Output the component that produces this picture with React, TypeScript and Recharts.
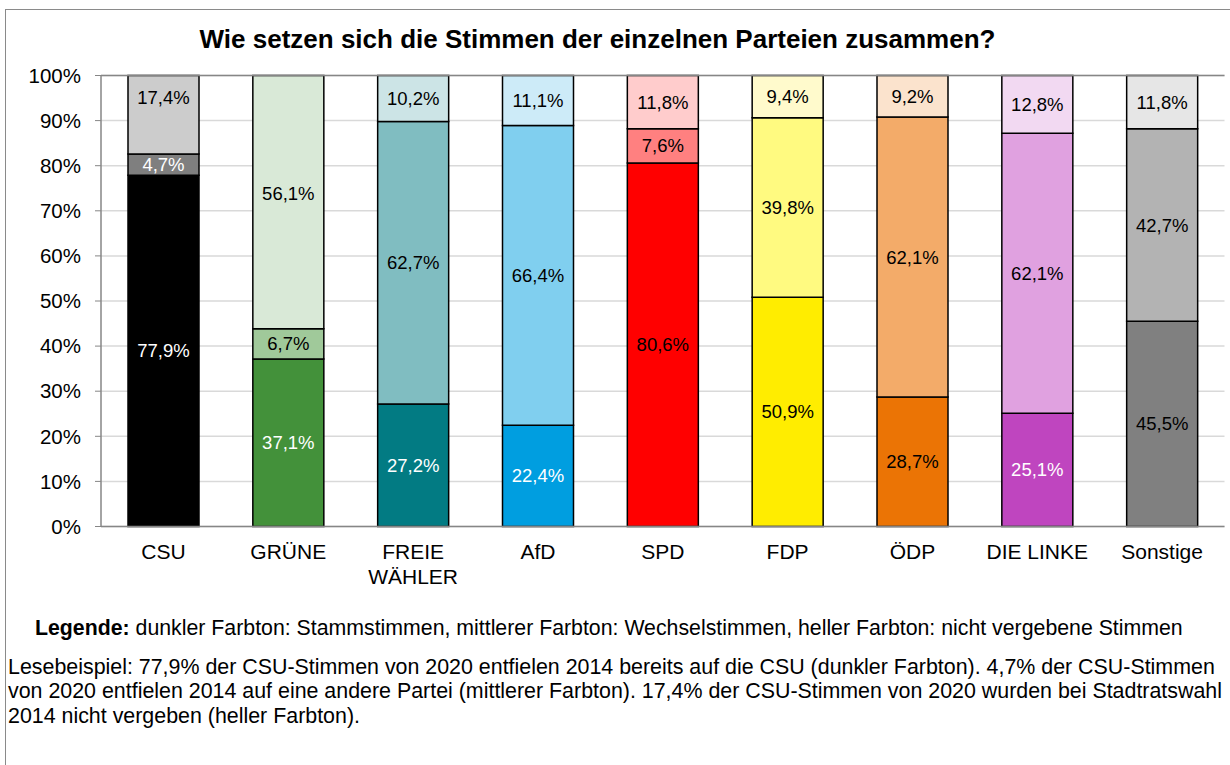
import { BarChart, Bar, XAxis, YAxis, CartesianGrid, Cell, LabelList, ReferenceLine } from 'recharts';

const categories = ['CSU', 'GRÜNE', 'FREIE WÄHLER', 'AfD', 'SPD', 'FDP', 'ÖDP', 'DIE LINKE', 'Sonstige'];
// Stammstimmen (dark), Wechselstimmen (mid), nicht vergebene Stimmen (light), in %
const stamm = [77.9, 37.1, 27.2, 22.4, 80.6, 50.9, 28.7, 25.1, 45.5];
const wechsel = [4.7, 6.7, 62.7, 66.4, 7.6, 39.8, 62.1, 62.1, 42.7];
const nicht = [17.4, 56.1, 10.2, 11.1, 11.8, 9.4, 9.2, 12.8, 11.8];
const yTicks = [0, 0.1, 0.2, 0.3, 0.4, 0.5, 0.6, 0.7, 0.8, 0.9, 1];

const darkColors = ['#000000', '#43913a', '#027b83', '#009ee0', '#ff0000', '#ffed00', '#eb7405', '#bf45bf', '#808080'];
const midColors = ['#7f7f7f', '#a0c99a', '#80bdc1', '#80cfef', '#ff8080', '#fffa80', '#f3ab69', '#e0a1e0', '#b3b3b3'];
const lightColors = ['#cccccc', '#d9e9d7', '#cce4e6', '#cdebf8', '#ffcccc', '#fffacc', '#fbe3cd', '#f2d9f2', '#e6e6e6'];
const darkLabelColors = ['#fff', '#fff', '#fff', '#fff', '#000', '#000', '#000', '#fff', '#000'];
const midLabelColors = ['#fff', '#000', '#000', '#000', '#000', '#000', '#000', '#000', '#000'];
const lightLabelColors = categories.map(() => '#000');

// labels that were moved by hand in the original
const lightNudge = [-17, -9, 0, 0, 0, 0, 0, 0, 0];

const data = categories.map((name, i) => ({ name, stamm: stamm[i], wechsel: wechsel[i], nicht: nicht[i] }));

const FONT = '"Liberation Sans", Arial, sans-serif';
const AXIS = '#868686';

const fmt = (v: number) => v.toFixed(1).replace('.', ',') + '%';

function makeLabel(values: number[], colors: string[], nudge?: number[]) {
  return (props: any) => {
    const { x, y, width, height, index } = props;
    return (
      <text
        x={Number(x) + Number(width) / 2}
        y={Number(y) + Number(height) / 2 + (nudge ? nudge[index] : 0)}
        textAnchor="middle"
        dominantBaseline="central"
        fill={colors[index]}
        fontSize={18.5}
        fontFamily={FONT}
      >
        {fmt(values[index])}
      </text>
    );
  };
}

function CatTick(props: any) {
  const { x, y, payload } = props;
  const label: string = payload.value;
  const lines = label.length > 10 ? label.split(' ') : [label];
  return (
    <text x={x} y={y + 32.5} textAnchor="middle" fontSize={21} fontFamily={FONT} fill="#000">
      {lines.map((l, i) => (
        <tspan key={i} x={x} dy={i === 0 ? 0 : 24.5}>
          {l}
        </tspan>
      ))}
    </text>
  );
}

export default function App() {
  return (
    <div style={{ position: 'absolute', left: 0, top: 0, width: 1230, height: 765, background: '#fff', overflow: 'hidden', fontFamily: FONT }}>
      <div style={{ position: 'absolute', left: 5, top: 9, width: 1300, height: 900, border: '1px solid #8a8a8a' }} />
      <div style={{ position: 'absolute', left: 0, top: 23.5, width: 1195, textAlign: 'center', fontSize: 26, lineHeight: '30px', fontWeight: 'bold', whiteSpace: 'nowrap' }}>
        Wie setzen sich die Stimmen der einzelnen Parteien zusammen?
      </div>
      <div style={{ position: 'absolute', left: 0, top: 0 }}>
        <BarChart width={1230} height={600} data={data} stackOffset="expand" margin={{ top: 75.5, right: 5.5, left: 0, bottom: 0 }}>
          <CartesianGrid vertical={false} stroke="#d9d9d9" strokeWidth={1.5} />
          <XAxis dataKey="name" height={73.5} tickLine={false} tickSize={0} tickMargin={0} axisLine={{ stroke: AXIS, strokeWidth: 1.5 }} tick={<CatTick />} interval={0} />
          <YAxis
            width={101}
            domain={[0, 1]}
            ticks={yTicks}
            tickFormatter={(v) => Math.round(v * 100) + '%'}
            tick={{ fill: '#000', fontSize: 20.5, fontFamily: FONT }}
            tickSize={6}
            tickMargin={14}
            axisLine={{ stroke: AXIS, strokeWidth: 1.5 }}
            tickLine={{ stroke: AXIS }}
          />
          <YAxis yAxisId="right" orientation="right" width={0} domain={[0, 1]} tick={false} tickLine={false} axisLine={{ stroke: AXIS, strokeWidth: 1.5 }} />
          <ReferenceLine y={1} stroke={AXIS} strokeWidth={1.5} />
          <Bar dataKey="stamm" stackId="a" barSize={71} stroke="#000" strokeWidth={1.5} isAnimationActive={false}>
            {data.map((_, i) => (
              <Cell key={i} fill={darkColors[i]} />
            ))}
            <LabelList dataKey="stamm" content={makeLabel(stamm, darkLabelColors)} />
          </Bar>
          <Bar dataKey="wechsel" stackId="a" barSize={71} stroke="#000" strokeWidth={1.5} isAnimationActive={false}>
            {data.map((_, i) => (
              <Cell key={i} fill={midColors[i]} />
            ))}
            <LabelList dataKey="wechsel" content={makeLabel(wechsel, midLabelColors)} />
          </Bar>
          <Bar dataKey="nicht" stackId="a" barSize={71} stroke="#000" strokeWidth={1.5} isAnimationActive={false}>
            {data.map((_, i) => (
              <Cell key={i} fill={lightColors[i]} />
            ))}
            <LabelList dataKey="nicht" content={makeLabel(nicht, lightLabelColors, lightNudge)} />
          </Bar>
        </BarChart>
      </div>
      <div style={{ position: 'absolute', left: 35, top: 616, fontSize: 21.3, lineHeight: '24px', whiteSpace: 'nowrap' }}>
        <b>Legende:</b> dunkler Farbton: Stammstimmen, mittlerer Farbton: Wechselstimmen, heller Farbton: nicht vergebene Stimmen
      </div>
      <div style={{ position: 'absolute', left: 8, top: 654.75, fontSize: 21.4, lineHeight: '24.5px', whiteSpace: 'nowrap' }}>
        <div>Lesebeispiel: 77,9% der CSU-Stimmen von 2020 entfielen 2014 bereits auf die CSU (dunkler Farbton). 4,7% der CSU-Stimmen</div>
        <div>von 2020 entfielen 2014 auf eine andere Partei (mittlerer Farbton). 17,4% der CSU-Stimmen von 2020 wurden bei Stadtratswahl</div>
        <div>2014 nicht vergeben (heller Farbton).</div>
      </div>
    </div>
  );
}
